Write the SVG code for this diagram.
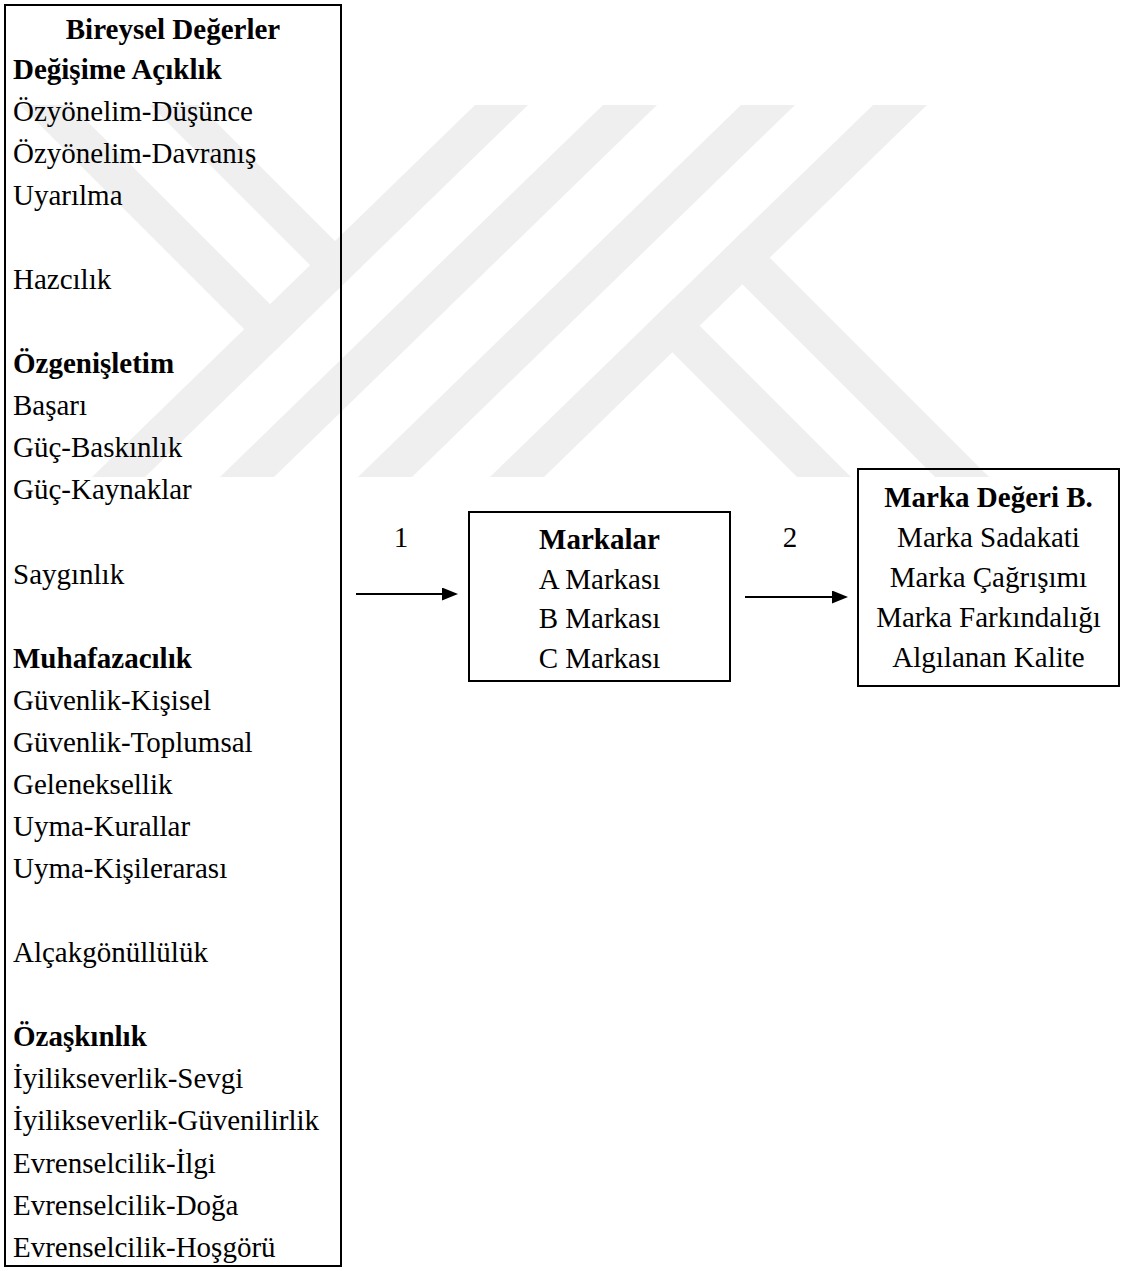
<svg xmlns="http://www.w3.org/2000/svg" width="1121" height="1271" viewBox="0 0 1121 1271">
  <style>
    .t { font-family: "Liberation Serif", "Times New Roman", serif; font-size: 29px; fill: #000; }
    .b { font-weight: bold; }
    .c { text-anchor: middle; }
    .box { fill: none; stroke: #000; stroke-width: 2; }
    .wire { stroke: #000; stroke-width: 2; fill: none; }
    .mark { fill: #efefef; stroke: none; }
  </style>
  <defs>
    <marker id="head" markerUnits="userSpaceOnUse" markerWidth="16" markerHeight="13" refX="6" refY="6.5" orient="auto">
      <path d="M0,0 L16,6.5 L0,13 z" fill="#000"/>
    </marker>
  </defs>

  <rect width="1121" height="1271" fill="#fff"/>

  <!-- background logo: diagonal bands -->
  <g id="logo">
    <polygon class="mark" points="475,105 528,105 145,477 92,477"/>
    <polygon class="mark" points="603,105 657,105 274,477 220,477"/>
    <polygon class="mark" points="741,105 795,105 412,477 358,477"/>
    <polygon class="mark" points="873,105 927,105 544,477 490,477"/>
    <polygon class="mark" points="150,105 199,105 361,267 336,291"/>
    <polygon class="mark" points="20,105 71,105 296,330 270,355"/>
    <polygon class="mark" points="743,231 989,477 935,477 716,258"/>
    <polygon class="mark" points="673,299 851,477 797,477 646,326"/>
  </g>

  <!-- personal values column -->
  <g id="values">
    <rect class="box" x="5" y="5" width="336" height="1261"/>
    <text class="t b c" x="173" y="39">Bireysel Değerler</text>
    <text class="t b" x="13" y="79">Değişime Açıklık</text>
    <text class="t" x="13" y="120.7">Özyönelim-Düşünce</text>
    <text class="t" x="13" y="162.8">Özyönelim-Davranış</text>
    <text class="t" x="13" y="204.8">Uyarılma</text>
    <text class="t" x="13" y="289">Hazcılık</text>
    <text class="t b" x="13" y="373.1">Özgenişletim</text>
    <text class="t" x="13" y="415.2">Başarı</text>
    <text class="t" x="13" y="457.3">Güç-Baskınlık</text>
    <text class="t" x="13" y="499.3">Güç-Kaynaklar</text>
    <text class="t" x="13" y="583.5">Saygınlık</text>
    <text class="t b" x="13" y="667.6">Muhafazacılık</text>
    <text class="t" x="13" y="709.7">Güvenlik-Kişisel</text>
    <text class="t" x="13" y="751.8">Güvenlik-Toplumsal</text>
    <text class="t" x="13" y="793.8">Geleneksellik</text>
    <text class="t" x="13" y="835.9">Uyma-Kurallar</text>
    <text class="t" x="13" y="878">Uyma-Kişilerarası</text>
    <text class="t" x="13" y="962.1">Alçakgönüllülük</text>
    <text class="t b" x="13" y="1046.2">Özaşkınlık</text>
    <text class="t" x="13" y="1088.3">İyilikseverlik-Sevgi</text>
    <text class="t" x="13" y="1130.4">İyilikseverlik-Güvenilirlik</text>
    <text class="t" x="13" y="1172.5">Evrenselcilik-İlgi</text>
    <text class="t" x="13" y="1214.5">Evrenselcilik-Doğa</text>
    <text class="t" x="13" y="1256.6">Evrenselcilik-Hoşgörü</text>
  </g>

  <!-- brands -->
  <g id="brands">
    <rect class="box" x="469" y="512" width="261" height="169"/>
    <text class="t b c" x="599.5" y="549">Markalar</text>
    <text class="t c" x="599.5" y="588.5">A Markası</text>
    <text class="t c" x="599.5" y="628">B Markası</text>
    <text class="t c" x="599.5" y="667.5">C Markası</text>
  </g>

  <!-- brand equity -->
  <g id="equity">
    <rect class="box" x="858" y="469" width="261" height="217"/>
    <text class="t b c" x="988.5" y="507">Marka Değeri B.</text>
    <text class="t c" x="988.5" y="547">Marka Sadakati</text>
    <text class="t c" x="988.5" y="587">Marka Çağrışımı</text>
    <text class="t c" x="988.5" y="627">Marka Farkındalığı</text>
    <text class="t c" x="988.5" y="667">Algılanan Kalite</text>
  </g>

  <!-- connectors -->
  <g id="connectors">
    <line class="wire" x1="356" y1="594" x2="448" y2="594" marker-end="url(#head)"/>
    <text class="t c" x="401" y="547">1</text>
    <line class="wire" x1="745" y1="597" x2="838" y2="597" marker-end="url(#head)"/>
    <text class="t c" x="790" y="547">2</text>
  </g>
</svg>
